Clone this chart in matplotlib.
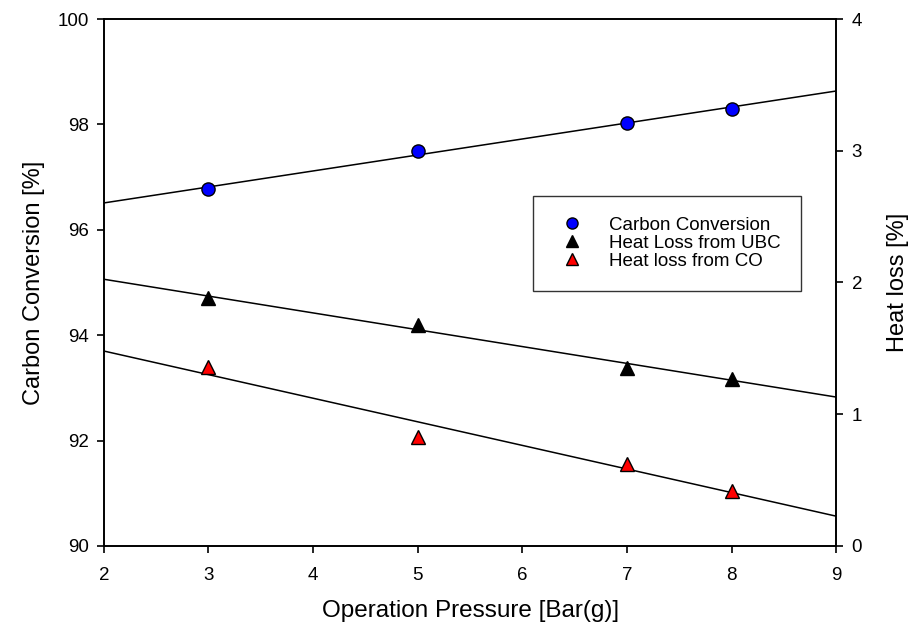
import numpy as np
import matplotlib
matplotlib.use("Agg")
import matplotlib.pyplot as plt

plt.rcParams['font.family'] = ['Liberation Sans', 'DejaVu Sans']

# data
pressure = [3, 5, 7, 8]
carbon_conversion = [96.77, 97.49, 98.03, 98.30]
heat_loss_ubc = [1.88, 1.68, 1.35, 1.27]
heat_loss_co = [1.36, 0.83, 0.62, 0.42]

x_ticks = [2, 3, 4, 5, 6, 7, 8, 9]
left_ticks = [90, 92, 94, 96, 98, 100]
right_ticks = [0, 1, 2, 3, 4]


def fit_line(x, y, x_range):
    slope, intercept = np.polyfit(x, y, 1)
    xs = np.array(x_range)
    return xs, slope * xs + intercept


fig = plt.figure(figsize=(9.11, 6.34), dpi=100)
ax = fig.add_axes([0.114, 0.139, 0.804, 0.831])
ax2 = ax.twinx()

# regression lines across the full x range
xs, ys = fit_line(pressure, carbon_conversion, [2, 9])
ax.plot(xs, ys, color='black', lw=1.1, zorder=2)
xs, ys = fit_line(pressure, heat_loss_ubc, [2, 9])
ax2.plot(xs, ys, color='black', lw=1.1, zorder=2)
xs, ys = fit_line(pressure, heat_loss_co, [2, 9])
ax2.plot(xs, ys, color='black', lw=1.1, zorder=2)

h1, = ax.plot(pressure, carbon_conversion, 'o', color='#0000ff', mec='black', mew=1.0,
              ms=9.5, zorder=3, label='Carbon Conversion')
h2, = ax2.plot(pressure, heat_loss_ubc, '^', color='black', mec='black', mew=1.0,
               ms=9.5, zorder=3, label='Heat Loss from UBC')
h3, = ax2.plot(pressure, heat_loss_co, '^', color='#ff0000', mec='black', mew=1.0,
               ms=9.5, zorder=3, label='Heat loss from CO')

ax.set_xlim(2, 9)
ax.set_ylim(90, 100)
ax2.set_ylim(0, 4)
ax.set_xticks(x_ticks)
ax.set_yticks(left_ticks)
ax2.set_yticks(right_ticks)

for a in (ax, ax2):
    a.tick_params(direction='out', length=5, width=1.2, labelsize=13.5, pad=6)
    for s in a.spines.values():
        s.set_linewidth(1.2)
ax.tick_params(axis='x', pad=10)

ax.set_xlabel('Operation Pressure [Bar(g)]', fontsize=17.5, labelpad=12)
ax.set_ylabel('Carbon Conversion [%]', fontsize=17, labelpad=9)
ax2.set_ylabel('Heat loss [%]', fontsize=17, labelpad=18)

leg = ax2.legend(handles=[h1, h2, h3], loc='upper left', bbox_to_anchor=(0.586, 0.664),
                 fontsize=13.5, frameon=True, fancybox=False, edgecolor='black',
                 borderpad=1.1, handletextpad=0.95, labelspacing=0.05, borderaxespad=0,
                 handlelength=2.0)
leg.get_frame().set_linewidth(1.0)
for h in leg.legend_handles:
    h.set_markersize(8)

fig.savefig('out.png', dpi=100)
